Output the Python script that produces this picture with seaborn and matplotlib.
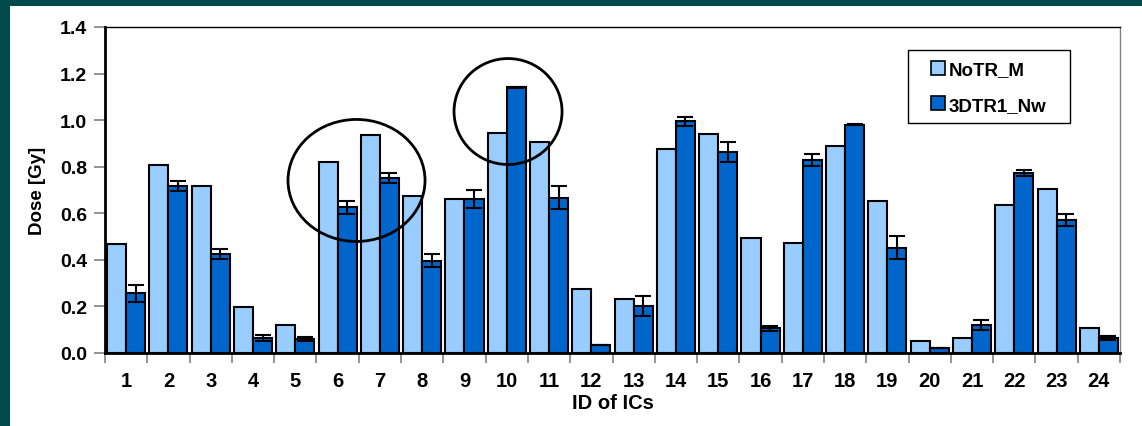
import matplotlib
matplotlib.use("Agg")
import matplotlib.pyplot as plt
from matplotlib.patches import Ellipse, Rectangle
import seaborn as sns
import pandas as pd
import numpy as np

# Dose per interstitial catheter (IC), two treatment plans
ic_ids = [str(i) for i in range(1, 25)]
notr_m = [0.468, 0.809, 0.717, 0.196, 0.119, 0.820, 0.937, 0.675, 0.661, 0.946,
          0.905, 0.273, 0.232, 0.876, 0.939, 0.494, 0.474, 0.890, 0.654, 0.050,
          0.064, 0.634, 0.704, 0.106]
dtr1_nw = [0.256, 0.717, 0.425, 0.063, 0.060, 0.626, 0.751, 0.396, 0.661, 1.141,
           0.667, 0.036, 0.203, 0.995, 0.862, 0.106, 0.829, 0.980, 0.452, 0.021,
           0.119, 0.773, 0.571, 0.064]
dtr1_nw_err = [0.035, 0.020, 0.022, 0.013, 0.010, 0.027, 0.023, 0.028, 0.040, 0.003,
               0.050, 0.0, 0.042, 0.020, 0.043, 0.010, 0.027, 0.003, 0.050, 0.0,
               0.021, 0.014, 0.027, 0.008]
series_names = ["NoTR_M", "3DTR1_Nw"]

df = pd.DataFrame({
    "IC": ic_ids * 2,
    "Dose": notr_m + dtr1_nw,
    "Plan": [series_names[0]] * len(ic_ids) + [series_names[1]] * len(ic_ids),
})

sns.set_style("white")
plt.rcParams["font.family"] = ["Liberation Sans", "DejaVu Sans"]
plt.rcParams["font.weight"] = "bold"
plt.rcParams["text.color"] = "black"
plt.rcParams["axes.labelcolor"] = "black"
plt.rcParams["xtick.color"] = "black"
plt.rcParams["ytick.color"] = "black"

W, H = 1142, 427
fig = plt.figure(figsize=(W / 100, H / 100), dpi=100)
fig.patch.set_facecolor("#004a4c")
# white slide panel behind the axes
panel = Rectangle((10 / W, 0), 1 - 10 / W, 1 - 7 / H,
                  transform=fig.transFigure, facecolor="white",
                  edgecolor="none", zorder=-10)
fig.add_artist(panel)

ax_l, ax_r, ax_t, ax_b = 105, 1120, 28, 354
ax = fig.add_axes([ax_l / W, 1 - ax_b / H, (ax_r - ax_l) / W, (ax_b - ax_t) / H])
ax.set_zorder(1)
ax.set_facecolor("white")

palette = {series_names[0]: "#99CCFF", series_names[1]: "#0066CC"}
sns.barplot(data=df, x="IC", y="Dose", hue="Plan", palette=palette, width=0.9,
            edgecolor="black", linewidth=1.5, saturation=1, errorbar=None, ax=ax)

# error bars on the second series, placed at the bar centres
dark = ax.containers[1]
xs = [p.get_x() + p.get_width() / 2 for p in dark]
ax.errorbar(xs, dtr1_nw, yerr=dtr1_nw_err, fmt="none", ecolor="black",
            elinewidth=1.5, capsize=5.5, capthick=1.5, zorder=5)

ax.set_ylim(0, 1.4)
ax.set_xlim(-0.5, len(ic_ids) - 0.5)
ax.set_yticks(np.arange(0, 1.41, 0.2))
ax.set_yticklabels([f"{v:.1f}" for v in np.arange(0, 1.41, 0.2)])
ax.tick_params(axis="y", which="major", direction="out", length=8, width=1.2,
               color="#808080", labelcolor="black", labelsize=14, pad=5, left=True)

# category labels without tick marks; tick marks between categories
ax.tick_params(axis="x", which="major", length=0, labelsize=14.5, pad=13,
               labelcolor="black")
ax.set_xticks(np.arange(-0.5, len(ic_ids), 1.0), minor=True)
ax.tick_params(axis="x", which="minor", direction="out", length=7, width=1.2,
               color="#808080", bottom=True)

for lab in ax.get_xticklabels() + ax.get_yticklabels():
    lab.set_fontweight("bold")

ax.set_xlabel("ID of ICs", fontsize=14.5, fontweight="bold", labelpad=2,
              color="black")
ax.set_ylabel("Dose [Gy]", fontsize=13.5, fontweight="bold", labelpad=10,
              color="black")

for side in ["left", "bottom"]:
    ax.spines[side].set_color("black")
    ax.spines[side].set_linewidth(2.0)
ax.spines["top"].set_color("black")
ax.spines["top"].set_linewidth(1.0)
ax.spines["right"].set_color("#808080")
ax.spines["right"].set_linewidth(1.0)

# highlighted regions
ax.add_patch(Ellipse((5.447, 0.741), 3.24, 0.524, fill=False, edgecolor="black",
                     linewidth=2.0, zorder=6))
ax.add_patch(Ellipse((9.03, 1.037), 2.554, 0.455, fill=False, edgecolor="black",
                     linewidth=2.0, zorder=6))

# legend box (pixel layout converted to axes fractions)
def ax_frac(px, py):
    return (px - ax_l) / (ax_r - ax_l), 1 - (py - ax_t) / (ax_b - ax_t)

bx0, by0 = ax_frac(908, 124)
bx1, by1 = ax_frac(1070, 51)
frame = Rectangle((bx0, by0), bx1 - bx0, by1 - by0, transform=ax.transAxes,
                  facecolor="white", edgecolor="black", linewidth=1.0,
                  clip_on=False, zorder=7)
ax.add_patch(frame)

leg = ax.legend(loc="upper left", bbox_to_anchor=ax_frac(931, 62),
                frameon=False, fontsize=13.5,
                handlelength=0.75, handleheight=0.75, handletextpad=0.2,
                labelspacing=0.95, borderpad=0, borderaxespad=0, title=None)
leg.set_zorder(8)
for t in leg.get_texts():
    t.set_fontweight("bold")
    t.set_color("black")
for h in leg.legend_handles:
    h.set_edgecolor("black")
    h.set_linewidth(1.2)

fig.savefig("out.png", dpi=100, facecolor=fig.get_facecolor())
